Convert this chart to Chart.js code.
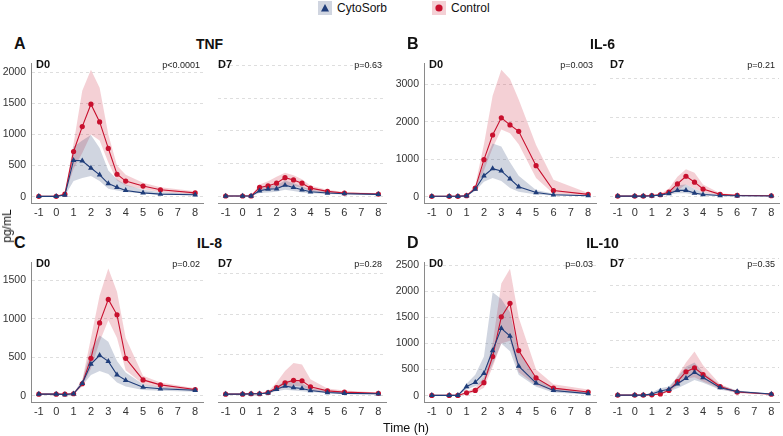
<!DOCTYPE html>
<html>
<head>
<meta charset="utf-8">
<script src="https://cdn.jsdelivr.net/npm/chart.js@4.4.1/dist/chart.umd.min.js"></script>
<style>
  body { margin: 0; background: #fff; font-family: "Liberation Sans", Arial, sans-serif; }
  #wrap { position: relative; width: 783px; height: 436px; overflow: hidden; }
  canvas { position: absolute; }
  .txt { position: absolute; line-height: 1; white-space: nowrap; color: #111; }
  .mid { transform: translate(-50%, -50%); }
  .lft { transform: translateY(-50%); }
  .rgt { transform: translate(-100%, -50%); }
</style>
</head>
<body>
<div id="wrap"></div>
<script>
// time points (h)
var timePoints = [-1, 0, 0.5, 1, 1.5, 2, 2.5, 3, 3.5, 4, 5, 6, 8];
var xTicks = [-1, 0, 1, 2, 3, 4, 5, 6, 7, 8];

// TNF
var tnf0Ctrl   = [5, 5, 40, 725, 1125, 1485, 1200, 775, 360, 250, 170, 110, 60];
var tnf0CtrlHi = [10, 10, 60, 850, 1700, 2040, 1750, 1000, 500, 350, 225, 150, 85];
var tnf0CtrlLo = [2, 2, 25, 450, 700, 1000, 900, 550, 260, 180, 120, 75, 40];
var tnf0Cyto   = [5, 5, 25, 585, 575, 460, 350, 210, 150, 100, 60, 40, 30];
var tnf0CytoHi = [10, 10, 40, 800, 900, 990, 780, 420, 280, 190, 110, 70, 50];
var tnf0CytoLo = [2, 2, 15, 250, 300, 330, 250, 125, 100, 75, 50, 35, 20];
var tnf7Ctrl   = [5, 5, 5, 135, 160, 200, 285, 250, 200, 125, 75, 50, 35];
var tnf7CtrlHi = [8, 8, 8, 180, 230, 300, 360, 320, 260, 160, 100, 65, 45];
var tnf7CtrlLo = [2, 2, 2, 80, 100, 120, 170, 160, 130, 80, 50, 35, 25];
var tnf7Cyto   = [5, 5, 5, 85, 110, 115, 170, 135, 100, 70, 50, 40, 30];
var tnf7CytoHi = [8, 8, 8, 130, 160, 170, 240, 200, 150, 100, 70, 55, 40];
var tnf7CytoLo = [2, 2, 2, 50, 60, 70, 100, 80, 60, 45, 35, 28, 20];

// IL-6
var il6_0Ctrl   = [10, 10, 10, 25, 230, 990, 1650, 2110, 1920, 1750, 830, 165, 60];
var il6_0CtrlHi = [15, 15, 15, 40, 300, 1400, 2700, 3400, 3150, 2600, 1380, 450, 100];
var il6_0CtrlLo = [5, 5, 5, 15, 180, 700, 1300, 1800, 1700, 1400, 500, 80, 30];
var il6_0Cyto   = [10, 10, 10, 20, 200, 560, 750, 690, 475, 265, 110, 50, 25];
var il6_0CytoHi = [15, 15, 15, 30, 250, 900, 1420, 1340, 920, 560, 180, 80, 40];
var il6_0CytoLo = [5, 5, 5, 10, 150, 400, 500, 420, 230, 130, 60, 30, 15];
var il6_7Ctrl   = [5, 5, 5, 20, 40, 110, 315, 510, 360, 185, 50, 25, 15];
var il6_7CtrlHi = [8, 8, 8, 30, 60, 200, 500, 690, 600, 300, 80, 40, 25];
var il6_7CtrlLo = [2, 2, 2, 10, 25, 60, 150, 300, 200, 100, 30, 15, 10];
var il6_7Cyto   = [5, 5, 5, 15, 30, 70, 150, 150, 85, 45, 20, 15, 10];
var il6_7CytoHi = [8, 8, 8, 25, 45, 110, 280, 300, 190, 90, 35, 25, 15];
var il6_7CytoLo = [2, 2, 2, 8, 18, 40, 80, 80, 40, 25, 10, 8, 5];

// IL-8
var il8_0Ctrl   = [20, 20, 20, 25, 155, 485, 945, 1250, 1050, 485, 205, 140, 80];
var il8_0CtrlHi = [25, 25, 25, 35, 200, 750, 1300, 1650, 1350, 750, 260, 170, 95];
var il8_0CtrlLo = [15, 15, 15, 18, 120, 350, 700, 980, 750, 330, 150, 110, 60];
var il8_0Cyto   = [20, 20, 15, 25, 160, 410, 525, 445, 270, 200, 110, 90, 70];
var il8_0CytoHi = [25, 25, 20, 35, 200, 600, 780, 700, 450, 300, 150, 115, 85];
var il8_0CytoLo = [15, 15, 10, 18, 130, 270, 320, 280, 170, 120, 75, 65, 50];
var il8_7Ctrl   = [15, 15, 20, 20, 35, 95, 155, 185, 180, 105, 55, 40, 25];
var il8_7CtrlHi = [20, 20, 25, 25, 45, 160, 300, 400, 380, 200, 85, 60, 35];
var il8_7CtrlLo = [10, 10, 15, 15, 25, 60, 100, 120, 110, 60, 35, 25, 15];
var il8_7Cyto   = [15, 15, 20, 20, 30, 75, 115, 95, 85, 60, 35, 25, 20];
var il8_7CytoHi = [20, 20, 25, 25, 40, 110, 180, 180, 150, 90, 50, 35, 28];
var il8_7CytoLo = [10, 10, 15, 15, 22, 50, 70, 60, 50, 40, 25, 18, 12];

// IL-10
var il10_0Ctrl   = [5, 5, 5, 55, 100, 250, 750, 1510, 1770, 865, 340, 145, 70];
var il10_0CtrlHi = [10, 10, 10, 80, 150, 350, 1000, 2150, 2430, 1500, 500, 220, 120];
var il10_0CtrlLo = [2, 2, 2, 30, 60, 150, 550, 1000, 1050, 450, 200, 90, 40];
var il10_0Cyto   = [5, 5, 5, 175, 255, 430, 865, 1290, 1140, 565, 240, 100, 40];
var il10_0CytoHi = [10, 10, 10, 230, 400, 750, 1980, 1850, 1600, 850, 350, 150, 60];
var il10_0CytoLo = [2, 2, 2, 120, 180, 250, 600, 1000, 850, 400, 170, 60, 25];
var il10_7Ctrl   = [5, 5, 5, 10, 25, 90, 250, 430, 500, 380, 160, 60, 20];
var il10_7CtrlHi = [8, 8, 8, 15, 40, 120, 350, 600, 800, 550, 200, 80, 30];
var il10_7CtrlLo = [2, 2, 2, 5, 15, 60, 180, 300, 330, 250, 120, 40, 12];
var il10_7Cyto   = [5, 5, 5, 25, 80, 110, 210, 310, 420, 325, 140, 70, 25];
var il10_7CytoHi = [8, 8, 8, 50, 130, 160, 330, 520, 600, 420, 190, 90, 35];
var il10_7CytoLo = [2, 2, 2, 10, 40, 70, 130, 200, 280, 230, 100, 50, 15];

var tnfTicks = [0, 500, 1000, 1500, 2000];
var il6Ticks = [0, 1000, 2000, 3000];
var il8Ticks = [0, 500, 1000, 1500];
var il10Ticks = [0, 500, 1000, 1500, 2000, 2500];

var RED = "#c8102e", NAVY = "#1f3d7a";
var RED_FILL = "rgba(205, 40, 65, 0.22)", NAVY_FILL = "rgba(40, 65, 115, 0.22)";
var FONT = "'Liberation Sans', Arial, sans-serif";

Chart.defaults.font.family = FONT;
Chart.defaults.color = "#333";

var wrap = document.getElementById("wrap");

function addText(txt, x, y, size, bold, cls, extra) {
    var d = document.createElement("div");
    d.className = "txt " + cls;
    d.style.left = x + "px";
    d.style.top = y + "px";
    d.style.fontSize = size + "px";
    if (bold) d.style.fontWeight = "bold";
    if (extra) d.style.cssText += extra;
    d.textContent = txt;
    wrap.appendChild(d);
    return d;
}

function toPts(arr) {
    return arr.map(function (v, i) { return { x: timePoints[i], y: v }; });
}

// box: plot area in page px (L, R, T, B)
function makePlot(box, withY, yMin, yMax, yTicks, ctrl, ctrlLo, ctrlHi, cyto, cytoLo, cytoHi) {
    var yw = withY ? 30 : 0;
    var xh = 22;
    var c = document.createElement("canvas");
    var w = box.R - box.L + yw + 2;
    var h = box.B - box.T + xh + 2;
    c.width = w; c.height = h;
    c.style.left = (box.L - yw) + "px";
    c.style.top = (box.T - 2) + "px";
    c.style.width = w + "px";
    c.style.height = h + "px";
    wrap.appendChild(c);

    return new Chart(c, {
        type: "line",
        data: {
            datasets: [
                { data: toPts(cyto), borderColor: NAVY, backgroundColor: NAVY, borderWidth: 1.1,
                  pointStyle: "triangle", pointRadius: 3.3, pointBorderWidth: 0, fill: false, order: 0 },
                { data: toPts(ctrl), borderColor: RED, backgroundColor: RED, borderWidth: 1.1,
                  pointStyle: "circle", pointRadius: 2.6, pointBorderWidth: 0, fill: false, order: 1 },
                { data: toPts(cytoHi), borderWidth: 0, pointRadius: 0, backgroundColor: NAVY_FILL,
                  fill: "+1", order: 2 },
                { data: toPts(cytoLo), borderWidth: 0, pointRadius: 0, fill: false, order: 3 },
                { data: toPts(ctrlHi), borderWidth: 0, pointRadius: 0, backgroundColor: RED_FILL,
                  fill: "+1", order: 4 },
                { data: toPts(ctrlLo), borderWidth: 0, pointRadius: 0, fill: false, order: 5 }
            ]
        },
        options: {
            responsive: false,
            animation: false,
            events: [],
            layout: { padding: { top: 2, right: 2, left: 0, bottom: 0 } },
            plugins: { legend: { display: false }, tooltip: { enabled: false } },
            scales: {
                x: {
                    type: "linear", min: -1.45, max: 8.45,
                    afterBuildTicks: function (s) { s.ticks = xTicks.map(function (v) { return { value: v }; }); },
                    afterFit: function (s) { s.height = xh; },
                    grid: { display: false, drawTicks: false },
                    border: { display: true, color: "#8a8a8a", width: 1 },
                    ticks: { padding: 3, font: { size: 11 }, color: "#333", maxRotation: 0,
                             callback: function (v) { return String(v); } }
                },
                y: {
                    type: "linear", min: yMin, max: yMax,
                    afterBuildTicks: function (s) { s.ticks = yTicks.map(function (v) { return { value: v }; }); },
                    afterFit: function (s) { s.width = yw; },
                    grid: { display: true, drawTicks: false, color: "#d6d6d6", lineWidth: 0.8 },
                    border: { display: withY, color: "#8a8a8a", width: 1, dash: [3, 3] },
                    ticks: { display: withY, padding: 5, font: { size: 10.5 }, color: "#333",
                             callback: function (v) { return String(v); } }
                }
            }
        }
    });
}

// layout boxes
var rows = [{ T: 54, B: 203 }, { T: 253, B: 402 }];
var cols = [
    { d0: { L: 31, R: 205 }, d7: { L: 214, R: 388 } },
    { d0: { L: 424, R: 598 }, d7: { L: 606, R: 781 } }
];
function box(r, c, d) {
    var b = cols[c][d];
    return { L: b.L, R: b.R, T: rows[r].T, B: rows[r].B };
}

var panels = [
    { r: 0, c: 0, letter: "A", title: "TNF", yMin: -102, yMax: 2142, ticks: tnfTicks, p0: "p<0.0001", p7: "p=0.63",
      d0: [tnf0Ctrl, tnf0CtrlLo, tnf0CtrlHi, tnf0Cyto, tnf0CytoLo, tnf0CytoHi],
      d7: [tnf7Ctrl, tnf7CtrlLo, tnf7CtrlHi, tnf7Cyto, tnf7CytoLo, tnf7CytoHi] },
    { r: 0, c: 1, letter: "B", title: "IL-6", yMin: -170, yMax: 3570, ticks: il6Ticks, p0: "p=0.003", p7: "p=0.21",
      d0: [il6_0Ctrl, il6_0CtrlLo, il6_0CtrlHi, il6_0Cyto, il6_0CytoLo, il6_0CytoHi],
      d7: [il6_7Ctrl, il6_7CtrlLo, il6_7CtrlHi, il6_7Cyto, il6_7CytoLo, il6_7CytoHi] },
    { r: 1, c: 0, letter: "C", title: "IL-8", yMin: -82, yMax: 1732, ticks: il8Ticks, p0: "p=0.02", p7: "p=0.28",
      d0: [il8_0Ctrl, il8_0CtrlLo, il8_0CtrlHi, il8_0Cyto, il8_0CytoLo, il8_0CytoHi],
      d7: [il8_7Ctrl, il8_7CtrlLo, il8_7CtrlHi, il8_7Cyto, il8_7CytoLo, il8_7CytoHi] },
    { r: 1, c: 1, letter: "D", title: "IL-10", yMin: -121, yMax: 2555, ticks: il10Ticks, p0: "p=0.03", p7: "p=0.35",
      d0: [il10_0Ctrl, il10_0CtrlLo, il10_0CtrlHi, il10_0Cyto, il10_0CytoLo, il10_0CytoHi],
      d7: [il10_7Ctrl, il10_7CtrlLo, il10_7CtrlHi, il10_7Cyto, il10_7CytoLo, il10_7CytoHi] }
];

panels.forEach(function (p) {
    var b0 = box(p.r, p.c, "d0"), b7 = box(p.r, p.c, "d7");
    makePlot(b0, true, p.yMin, p.yMax, p.ticks, p.d0[0], p.d0[1], p.d0[2], p.d0[3], p.d0[4], p.d0[5]);
    makePlot(b7, false, p.yMin, p.yMax, p.ticks, p.d7[0], p.d7[1], p.d7[2], p.d7[3], p.d7[4], p.d7[5]);

    var ty = b0.T - 10;
    addText(p.letter, b0.L - 17, ty, 16, true, "lft");
    addText(p.title, (b0.L + b7.R) / 2, ty, 14, true, "mid");
    addText("D0", b0.L + 5, b0.T + 10, 11, true, "lft");
    addText("D7", b7.L + 4, b7.T + 10, 11, true, "lft");
    addText(p.p0, b0.R - 5, b0.T + 11, 9, false, "rgt", "color:#222;");
    addText(p.p7, b7.R - 6, b7.T + 11, 9, false, "rgt", "color:#222;");
});

// axis titles
addText("pg/mL", 7, 226, 12, false, "mid", "transform: translate(-50%, -50%) rotate(-90deg);");
addText("Time (h)", 406, 428, 12.5, false, "mid");

// legend
function legendKey(x, fill, shape) {
    var d = document.createElement("div");
    d.style.cssText = "position:absolute;left:" + x + "px;top:1px;width:14px;height:14px;background:" + fill + ";";
    d.innerHTML = shape;
    wrap.appendChild(d);
}
legendKey(318, NAVY_FILL, '<svg width="14" height="14"><polygon points="7,3 11,10.5 3,10.5" fill="' + NAVY + '"/></svg>');
addText("CytoSorb", 337, 8, 12, false, "lft");
legendKey(432, RED_FILL, '<svg width="14" height="14"><circle cx="7" cy="7" r="3.6" fill="' + RED + '"/></svg>');
addText("Control", 451, 8, 12, false, "lft");
</script>
</body>
</html>
